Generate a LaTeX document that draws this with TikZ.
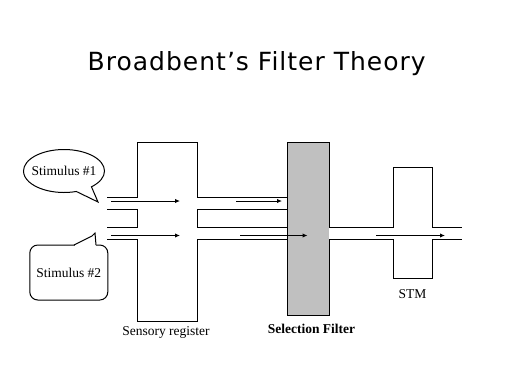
\documentclass[tikz,border=0pt]{standalone}
\usepackage{fontspec}
\setmainfont{Liberation Serif}
\newfontfamily\titlefont[LetterSpace=4]{DejaVu Sans}
\usetikzlibrary{arrows.meta,shapes.callouts}
\definecolor{filtergray}{HTML}{C0C0C0}

\begin{document}
\begin{tikzpicture}[
  x=1pt, y=-1pt,
  pipe/.style={line width=1pt},
  flow/.style={line width=1pt, -{Latex[length=5pt,width=4.5pt]}},
  lab/.style={font=\fontsize{13.5}{15}\selectfont, inner sep=0pt, anchor=base},
  bubble/.style={draw, line width=1pt, fill=white, font=\fontsize{13.5}{15}\selectfont}
]
\useasboundingbox (0,0) rectangle (512,384);
\node[anchor=base, inner sep=0pt, font=\titlefont\fontsize{25}{29}\selectfont] (title) at (256.7,70) {Broadbent’s Filter Theory};

% stimuli
\node[bubble, ellipse callout, minimum width=81pt, minimum height=43pt, inner xsep=-4pt, inner ysep=0pt,
  callout absolute pointer={(98,202)}, callout pointer arc=25] (stimA) at (64,171) {Stimulus \#1};
\node[bubble, rounded corners=8pt, minimum width=78pt, minimum height=55pt] (stimB) at (68.8,272.5) {Stimulus \#2};
\coordinate (tbL) at (74,245);
\coordinate (tbR) at (96,245);
\coordinate (tipB) at (95,233);
\fill[white] (74.5,244.3) rectangle (95.5,245.7);
\draw[pipe] (tbL) -- (92,236) -- (tipB) -- (tbR);

% sensory register
\draw[pipe] (107,197) -- (137,197) -- (137,142) -- (197,142) -- (197,197) -- (287,197);
\draw[pipe] (107,239) -- (137,239) -- (137,321) -- (197,321) -- (197,239) -- (287,239);
\draw[pipe] (107,209) -- (137,209) -- (137,227) -- (107,227);
\draw[pipe] (287,209) -- (197,209) -- (197,227) -- (287,227);

% selection filter
\node[draw, pipe, fill=filtergray, minimum width=42pt, minimum height=173.4pt, inner sep=0pt] (filt) at (308.3,229) {};
\draw[white, line width=1.4pt] (329.3,228) -- (329.3,238.5);

% STM
\draw[pipe] (329,227) -- (393,227) -- (393,167) -- (432,167) -- (432,227) -- (462,227);
\draw[pipe] (329,239) -- (393,239) -- (393,278) -- (432,278) -- (432,239) -- (462,239);

% flow arrows
\foreach \nm/\xa/\xb/\yy in {a/111/180/201, b/111/180/235.5, c/236/282/201, d/240/307.5/235.5, e/376/445/235.5} {
  \coordinate (\nm0) at (\xa,\yy);
  \coordinate (\nm1) at (\xb,\yy);
  \draw[flow] (\nm0) -- (\nm1);
}

% labels
\node[lab] (srlab) at (166,335) {Sensory register};
\node[lab, font=\fontsize{13.5}{15}\selectfont\bfseries] (fllab) at (311.5,333.3) {Selection Filter};
\node[lab] (stmlab) at (412.5,298.3) {STM};
\end{tikzpicture}
\end{document}
